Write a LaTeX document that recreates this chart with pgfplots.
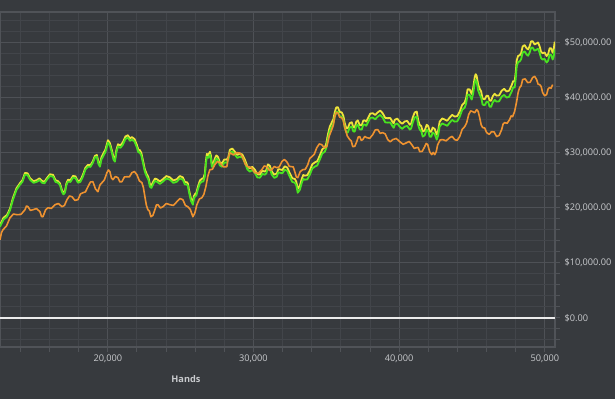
\documentclass[border=0pt]{standalone}
\usepackage{pgfplots}
\pgfplotsset{compat=1.18}
\usepackage{pgfplotstable}
\usepackage{fontspec}
\setmainfont{Open Sans}
\definecolor{bg}{RGB}{55,58,62}
\definecolor{gridmin}{RGB}{66,69,74}
\definecolor{gridmaj}{RGB}{78,81,86}
\definecolor{framec}{RGB}{80,83,88}
\definecolor{txt}{RGB}{200,202,205}
\definecolor{cyel}{RGB}{238,228,58}
\definecolor{cgrn}{RGB}{72,226,32}
\definecolor{corg}{RGB}{238,146,48}

\pgfplotstableread{
h g y
12600 16560 16900
12840 17870 18200
13080 18380 18700
13285 19530 19840
13490 21480 21800
13730 23245 23550
13970 24210 24500
14140 24720 25025
14315 26030 26350
14490 25975 26275
14660 25120 25400
14900 24535 24825
15140 24750 25050
15310 25060 25375
15480 24570 24900
15650 24445 24750
15820 25120 25400
16030 25790 26100
16240 25660 26000
16410 24715 25025
16580 24570 24850
16715 24150 24450
16850 22930 23250
16955 22440 22750
17060 22750 23050
17160 24150 24475
17265 24750 25100
17440 24715 25050
17610 25480 25800
17780 25425 25725
17950 24570 24850
18120 24715 25025
18290 25660 26000
18465 26970 27300
18640 27480 27800
18810 27445 27750
18980 28210 28500
19115 29155 29450
19250 29300 29600
19355 27990 28350
19460 27480 27900
19565 28790 29225
19670 29300 29750
19840 30175 30625
20010 31850 32300
20145 31340 31775
20280 30030 30450
20385 28810 29250
20490 28390 28850
20595 30155 30600
20700 31120 31550
20870 30905 31350
21040 31490 31950
21210 32525 32975
21380 32760 33200
21520 32180 32625
21655 32400 32850
21830 32070 32525
22000 30940 31400
22100 30085 30550
22200 30030 30500
22305 29520 29975
22410 28210 28650
22545 26535 26975
22680 25660 26100
22785 25150 25600
22890 23840 24300
22995 23625 24075
23100 24210 24650
23235 24880 25325
23370 24750 25200
23575 24350 24800
23780 24750 25200
24020 25335 25775
24260 25120 25550
24500 24535 24975
24740 24750 25200
24945 25335 25775
25150 25120 25550
25290 24265 24700
25430 24210 24650
25500 23970 24400
25565 22930 23350
25700 21350 21775
25840 20570 21000
25910 21695 22125
25980 22020 22450
26080 22260 22725
26180 23300 23800
26320 24425 24950
26460 24750 25300
26560 24805 25350
26660 25660 26200
26730 27880 28400
26800 29300 29800
26905 29085 29600
27010 29670 30200
27075 28975 29500
27140 27480 28000
27245 27535 28075
27350 28390 28950
27450 28975 29525
27555 28760 29300
27690 27720 28275
27830 27480 28050
28000 28245 28800
28170 28210 28750
28275 28720 29250
28380 30030 30550
28550 30250 30775
28720 29670 30200
28890 29085 29625
29060 29300 29850
29235 29155 29700
29410 28210 28750
29580 26990 27550
29750 26570 27150
29920 26880 27450
30090 26390 26950
30265 25535 26100
30440 25480 26050
30610 26155 26725
30780 26030 26600
30885 26265 26850
30990 27300 27900
31125 27065 27650
31260 26030 26600
31430 25445 26025
31600 25660 26250
31705 26425 27025
31810 26390 27000
31980 26265 26875
32150 26940 27550
32320 26700 27325
32490 25660 26300
32665 24715 25375
32840 24570 25250
32940 24060 24750
33040 22750 23450
33180 23260 23975
33320 24570 25300
33420 25245 25975
33520 25120 25850
33695 25175 25925
33870 26030 26800
34040 27155 27925
34210 27480 28250
34380 27720 28475
34550 28760 29500
34725 29885 30650
34900 30210 31000
35000 30905 31700
35100 32400 33200
35240 33980 34775
35380 34760 35550
35480 35270 36075
35580 36580 37400
35685 37435 38250
35790 37490 38300
35925 36635 37425
36060 36580 37350
36165 35980 36750
36270 34580 35350
36370 33725 34500
36470 33670 34450
36610 34615 35400
36750 34760 35550
36850 33905 34675
36950 33850 34600
37055 34890 35650
37160 35130 35900
37295 34275 35050
37430 34220 35000
37535 35075 35850
37640 35130 35900
37745 34910 35675
37850 35490 36250
38020 36345 37125
38190 36400 37200
38360 36090 36875
38530 36580 37350
38700 36890 37675
38870 36400 37200
39045 35545 36350
39220 35490 36300
39390 35525 36325
39560 34760 35550
39630 34545 35375
39700 35130 36000
39870 35345 36225
40040 34760 35650
40210 34360 35275
40380 34760 35700
40555 34890 35800
40730 34220 35100
40830 34455 35350
40930 35490 36400
41070 36435 37350
41210 36580 37500
41310 35000 35900
41410 34220 35100
41515 33980 34875
41620 32940 33850
41755 33180 34075
41890 34220 35100
41995 33980 34875
42100 32940 33850
42200 32905 33825
42300 33670 34600
42440 33435 34350
42580 32400 33300
42680 33180 34075
42780 34760 35650
42955 35345 36250
43130 35130 36050
43300 34910 35825
43470 35490 36400
43640 35980 36900
43810 35670 36600
43985 35725 36650
44160 36580 37500
44330 37800 38725
44500 38220 39150
44600 39005 39950
44700 40590 41550
44840 40535 41525
44980 39680 40700
45085 40825 41850
45190 42770 43800
45255 43260 44300
45320 42950 44000
45425 41370 42425
45530 40590 41650
45630 40080 41150
45730 38770 39850
45870 38640 39725
46010 39310 40400
46110 39255 40350
46210 38400 39500
46315 38365 39475
46420 39130 40250
46555 39620 40725
46690 39310 40400
46865 39365 40450
47040 40220 41300
47210 40530 41625
47380 40040 41150
47550 40185 41300
47720 41130 42250
47825 41895 43025
47930 41860 43000
48000 43370 44500
48070 45680 46800
48170 46535 47650
48270 46590 47700
48375 47010 48125
48480 48230 49350
48615 48450 49575
48750 47870 49000
48855 47650 48800
48960 48230 49400
49060 49085 50250
49160 49140 50300
49300 48560 49700
49440 48780 49900
49540 48905 50050
49640 48230 49400
49745 47195 48350
49850 46960 48100
49985 47085 48250
50120 46410 47600
50225 46740 47900
50330 47870 49000
50435 47815 49000
50540 46960 48200
50610 47470 48800
50680 48780 50200
}\gy

\pgfplotstableread{
h o
12600 14200
12703 15510
12806 16020
13046 16710
13286 18200
13526 18875
13766 18750
14040 18805
14315 19660
14418 20330
14521 20200
14692 19530
14864 19660
15104 19875
15344 19290
15447 18435
15550 18380
15722 19600
15893 20020
16133 19895
16373 20570
16613 20785
16853 20200
17025 20440
17196 21480
17368 22150
17539 22020
17745 21350
17951 21480
18122 22515
18294 22750
18466 22895
18637 23840
18808 24695
18980 24750
19152 23440
19323 22930
19460 24150
19597 24570
19768 25080
19940 26390
20043 26880
20146 26570
20249 25445
20352 25120
20523 25700
20695 25480
20832 24715
20969 24750
21140 25605
21312 25660
21483 25625
21655 26390
21826 26610
21998 26030
22170 24900
22341 24570
22444 23695
22547 22020
22650 20440
22753 19660
22856 19420
22959 18380
23096 18620
23233 19660
23336 20515
23439 20570
23610 19985
23782 20200
24022 20785
24262 20570
24502 20440
24742 21110
24948 21695
25154 21480
25325 20440
25497 20200
25668 19690
25840 18380
25977 19075
26114 20570
26285 21605
26457 21840
26594 22440
26732 23840
26869 25790
27006 26940
27177 26995
27349 27850
27520 28430
27692 28210
27932 27445
28172 27480
28275 29155
28378 30030
28618 29630
28858 30030
29064 29975
29270 29120
29441 27900
29613 27480
29853 27335
30093 26390
30333 26265
30573 26940
30744 27610
30916 27480
31087 26810
31259 26940
31430 27520
31602 27300
31773 27445
31945 28390
32116 28790
32288 28390
32460 27535
32631 27480
32734 27425
32837 26570
32940 25625
33043 25480
33214 26610
33386 26940
33557 26995
33729 27850
33866 28975
34003 29300
34174 29720
34346 30940
34517 31615
34689 31490
34860 30905
35032 31120
35203 33070
35375 34220
35478 35000
35581 36580
35684 37345
35787 37310
35924 36455
36061 36400
36164 35890
36267 34580
36438 33090
36610 32400
36713 32160
36816 31120
36953 31175
37090 32030
37193 32885
37296 32940
37399 32270
37502 32400
37639 32980
37776 32760
37982 32635
38188 33310
38360 34165
38531 34220
38702 33545
38874 33670
39045 33435
39217 32400
39388 32000
39560 32400
39800 32615
40040 32030
40280 31540
40520 31850
40692 32070
40863 31490
41035 30815
41206 30940
41309 30975
41412 30210
41583 30265
41755 31120
41858 31705
41961 31490
42098 30180
42235 29670
42338 30070
42441 29670
42544 30180
42647 31490
42818 32345
42990 32400
43230 32180
43470 32760
43641 32980
43813 32400
43984 32270
44156 32940
44327 34250
44499 34760
44636 35455
44773 36950
44910 37620
45048 37490
45185 37275
45322 37860
45425 37530
45528 36400
45631 35090
45734 34580
45871 34525
46008 33670
46180 33360
46351 33850
46522 33795
46694 32940
46866 33180
47037 34220
47140 35255
47243 35490
47414 35365
47586 36040
47689 36710
47792 36580
47929 37545
48066 39310
48169 40985
48272 41860
48375 42190
48478 43320
48650 43445
48821 42770
48992 42825
49164 43680
49301 43900
49438 43320
49541 42465
49644 42410
49747 42080
49850 40950
49987 40370
50124 40590
50227 41625
50330 41860
50433 41735
50536 42410
}\org

\begin{document}
\begin{tikzpicture}[x=1pt,y=1pt]
\fill[bg] (0,0) rectangle (615,399);
\useasboundingbox (0,0) rectangle (615,399);
\begin{axis}[
  at={(0pt,52pt)}, anchor=south west,
  width=555pt, height=335pt, scale only axis,
  xmin=12600, xmax=50700, ymin=-5300, ymax=55600,
  xtick={20000,30000,40000,50000},
  minor xtick={14000,16000,...,50000},
  ytick={0,10000,...,50000},
  minor ytick={-4000,-2000,...,54000},
  scaled ticks=false,
  grid=both,
  major grid style={color=gridmaj, line width=1.2pt},
  minor grid style={color=gridmin, line width=0.9pt},
  axis line style={color=framec, line width=1.2pt},
  tick style={color=framec, line width=1pt},
  tick align=outside,
  major tick length=5pt, minor tick length=5pt,
  xtick pos=bottom, ytick pos=right,
  yticklabel pos=right,
  /pgf/number format/assume math mode=true,
  xticklabel={\pgfmathprintnumber[fixed, precision=0, 1000 sep={,}]{\tick}},
  yticklabel={\$\pgfmathprintnumber[fixed, fixed zerofill, precision=2, 1000 sep={,}]{\tick}},
  ticklabel style={font=\fontsize{9.2}{11}\selectfont, text=txt},
  xticklabel style={yshift=1pt},
  yticklabel style={xshift=1pt},
  xlabel={Hands},
  xlabel style={at={(axis description cs:0.335,-0.0955)}, anchor=center,
    font=\bfseries\fontsize{9.2}{11}\selectfont, text=txt},
]
\addplot[color=white!92!black, line width=2.2pt] coordinates {(12600,0) (50700,0)};
\addplot[cyel, line width=1.8pt, line join=round] table[x=h, y=y] {\gy};
\addplot[cgrn, line width=1.8pt, line join=round] table[x=h, y=g] {\gy};
\addplot[corg, line width=1.6pt, line join=round] table[x=h, y=o] {\org};
\end{axis}
\end{tikzpicture}
\end{document}
